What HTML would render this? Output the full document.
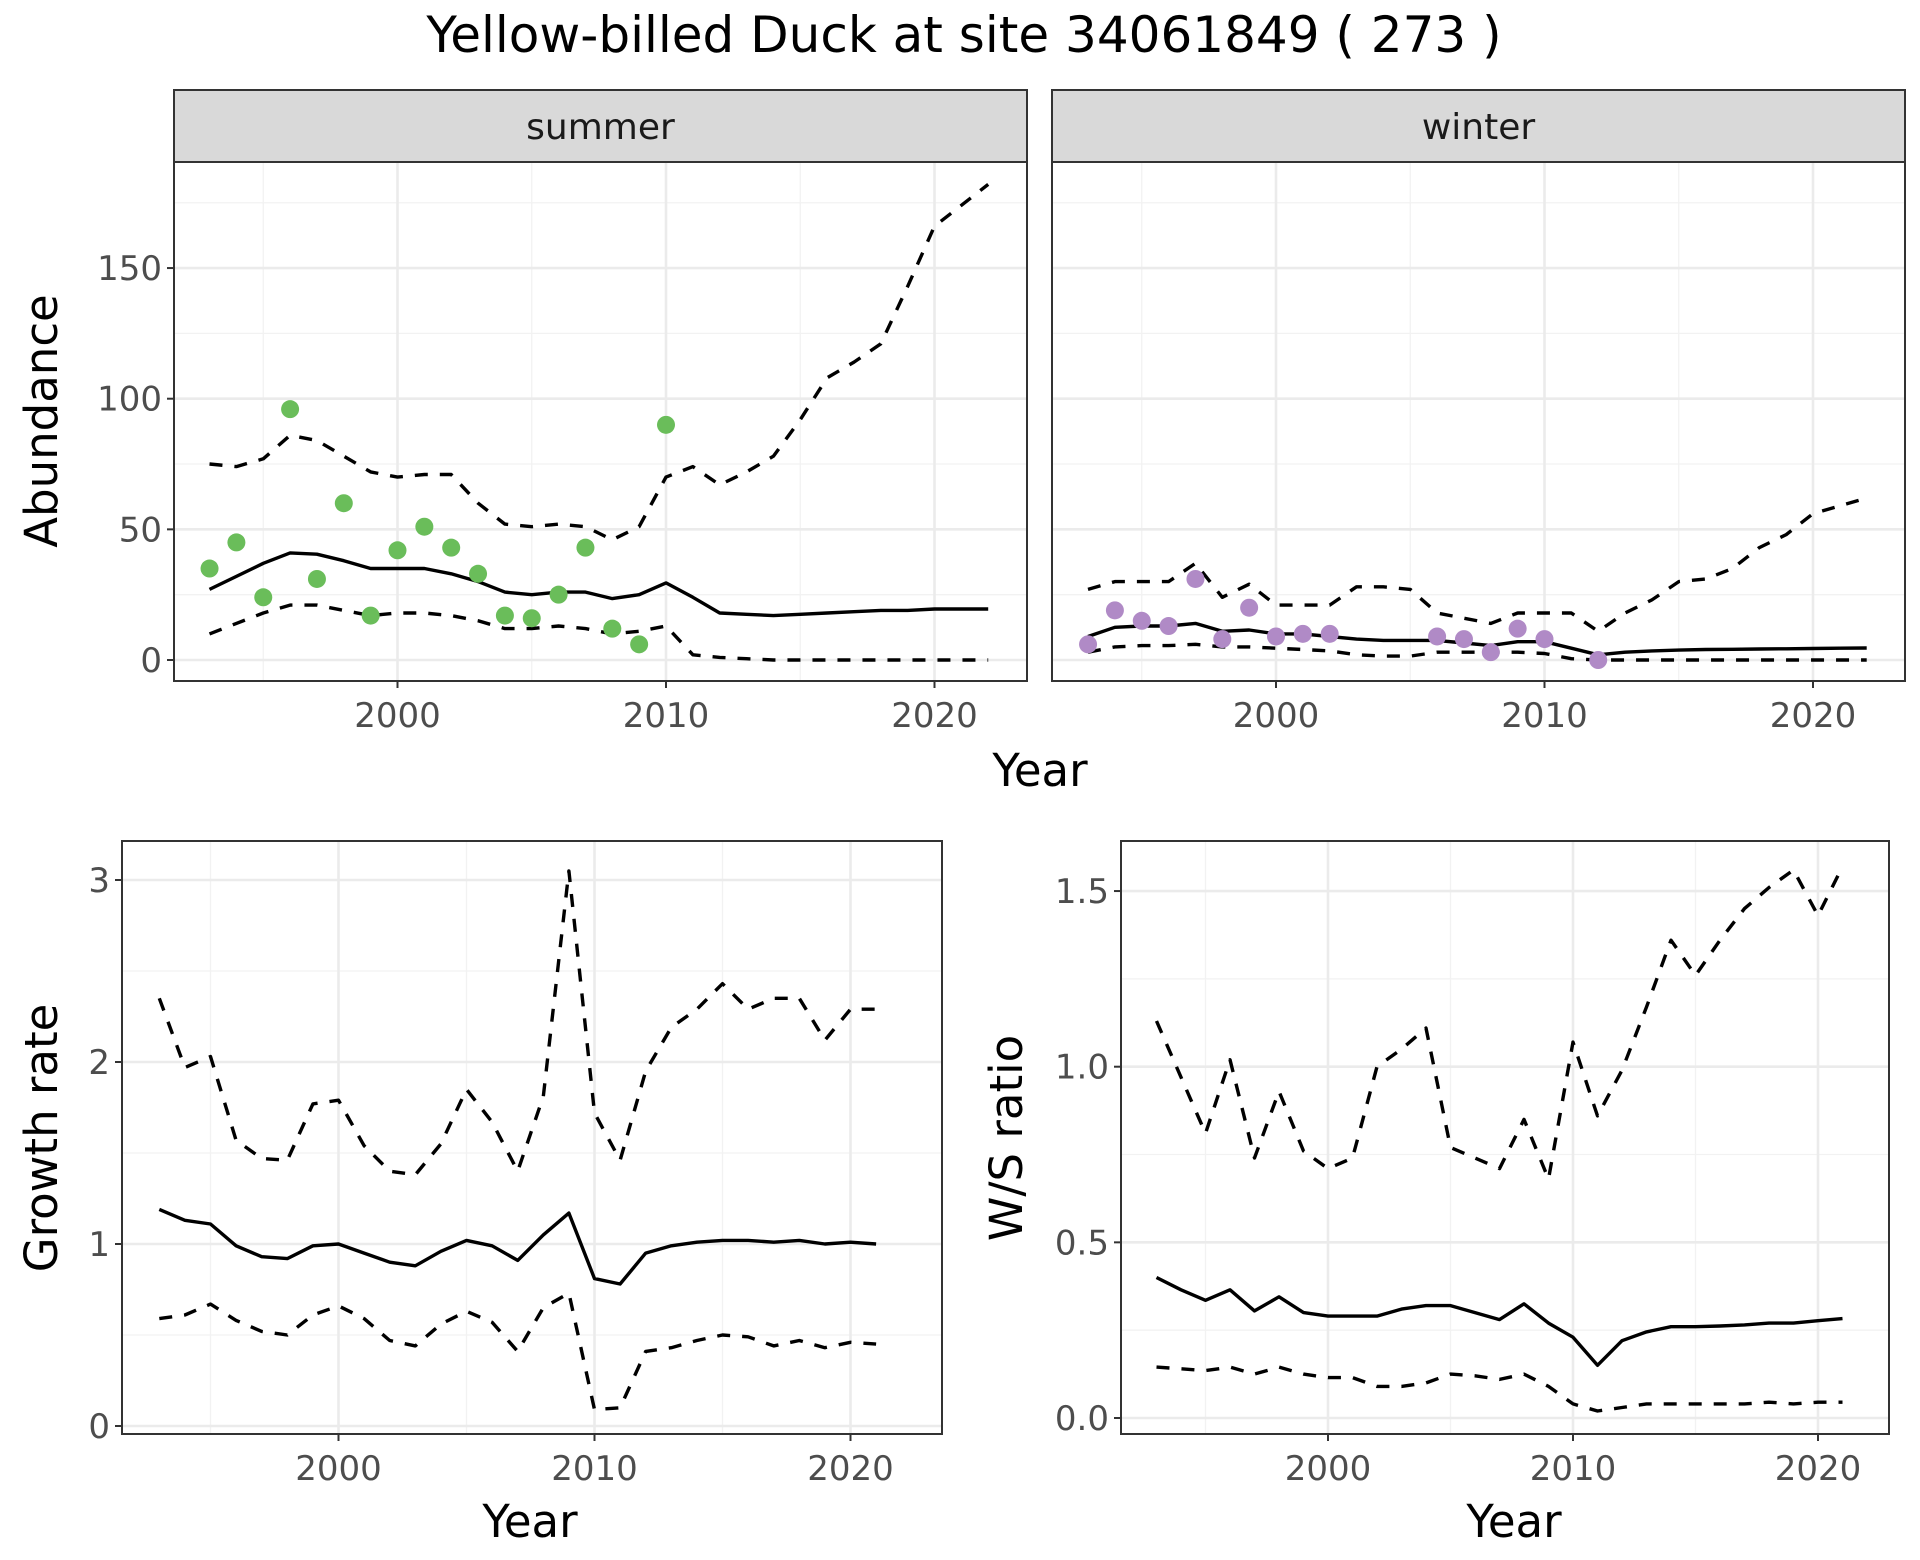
<!DOCTYPE html>
<html><head><meta charset="utf-8"><style>
html,body{margin:0;padding:0;background:#fff}
svg{display:block;font-family:"DejaVu Sans","Liberation Sans",sans-serif}
</style></head><body>
<svg id="c" width="1920" height="1560" viewBox="0 0 1920 1560" xmlns="http://www.w3.org/2000/svg">
<text x="964" y="52" font-size="50" text-anchor="middle" fill="#000">Yellow-billed Duck at site 34061849 ( 273 )</text>
</svg>
<script>
const yearsAll = [1993,1994,1995,1996,1997,1998,1999,2000,2001,2002,2003,2004,2005,2006,2007,2008,2009,2010,2011,2012,2013,2014,2015,2016,2017,2018,2019,2020,2021,2022];
const sumPtYears = [1993,1994,1995,1996,1997,1998,1999,2000,2001,2002,2003,2004,2005,2006,2007,2008,2009,2010];
const sumPts = [35,45,24,96,31,60,17,42,51,43,33,17,16,25,43,12,6,90];
const sumMean = [27,32,37,41,40.5,38,35,35,35,33,30,26,25,26,26,23.5,25,29.5,24,18,17.5,17,17.5,18,18.5,19,19,19.5,19.5,19.5];
const sumUp = [75,74,77,86,84,78,72,70,71,71,60,52,51,52,51,46,51,70,74,67,72,78,92,108,114,121,143,166,174,182];
const sumLo = [10,14,18,21,21,19,17,18,18,17,15,12,12,13,12,10,11,13,2,1,0.5,0,0,0,0,0,0,0,0,0];
const winPtYears = [1993,1994,1995,1996,1997,1998,1999,2000,2001,2002,2006,2007,2008,2009,2010,2012];
const winPts = [6,19,15,13,31,8,20,9,10,10,9,8,3,12,8,0];
const winMean = [9,12.5,13,13,14,11,11.5,10,10,9,8,7.5,7.5,7.5,6.5,5.5,7,7,4.5,2,3,3.5,3.8,4,4.1,4.2,4.3,4.4,4.5,4.6];
const winUp = [27,30,30,30,37,24,29,21,21,21,28,28,27,18,16,14,18,18,18,11,18,23,30,31,35,43,48,56,59,62];
const winLo = [3,5,5.5,5.5,6,5,5,4.5,4,3.5,2,1.5,1.5,3,3,3,3,2.5,0.5,0,0,0,0,0,0,0,0,0,0,0];
const yearsGr = [1993,1994,1995,1996,1997,1998,1999,2000,2001,2002,2003,2004,2005,2006,2007,2008,2009,2010,2011,2012,2013,2014,2015,2016,2017,2018,2019,2020,2021];
const grMean = [1.19,1.13,1.11,0.99,0.93,0.92,0.99,1.00,0.95,0.90,0.88,0.96,1.02,0.99,0.91,1.05,1.17,0.81,0.78,0.95,0.99,1.01,1.02,1.02,1.01,1.02,1.00,1.01,1.00];
const grUp = [2.35,1.97,2.03,1.57,1.47,1.46,1.77,1.79,1.54,1.40,1.38,1.55,1.85,1.67,1.40,1.81,3.05,1.72,1.46,1.95,2.19,2.29,2.43,2.29,2.35,2.35,2.12,2.29,2.29];
const grLo = [0.59,0.61,0.67,0.58,0.52,0.50,0.61,0.66,0.59,0.47,0.44,0.56,0.63,0.57,0.41,0.65,0.73,0.09,0.10,0.41,0.43,0.47,0.50,0.49,0.44,0.47,0.43,0.46,0.45];
const wsMean = [0.40,0.365,0.335,0.365,0.305,0.345,0.30,0.29,0.29,0.29,0.31,0.32,0.32,0.30,0.28,0.325,0.27,0.23,0.15,0.22,0.245,0.26,0.26,0.262,0.265,0.27,0.27,0.277,0.283];
const wsUp = [1.13,0.97,0.81,1.02,0.74,0.93,0.76,0.71,0.74,1.00,1.05,1.11,0.77,0.74,0.71,0.85,0.68,1.07,0.86,0.99,1.17,1.36,1.26,1.36,1.45,1.51,1.56,1.43,1.57];
const wsLo = [0.145,0.14,0.135,0.145,0.125,0.145,0.125,0.115,0.115,0.09,0.09,0.10,0.125,0.12,0.11,0.125,0.09,0.04,0.02,0.03,0.04,0.04,0.04,0.04,0.04,0.045,0.04,0.045,0.045];
const xTicks = [2000,2010,2020];
const xMinor = [1995,2005,2015];
const abTicks = [0,50,100,150];
const abMinor = [25,75,125,175];
const grTicks = [0,1,2,3];
const grMinor = [0.5,1.5,2.5];
const wsTicks = [0,0.5,1.0,1.5];
const wsMinor = [0.25,0.75,1.25];
const wsTickLabels = ["0.0","0.5","1.0","1.5"];

const svg = document.getElementById('c');
const NS = 'http://www.w3.org/2000/svg';
function mk(tag, attrs, parent){const e=document.createElementNS(NS,tag);for(const k in attrs)e.setAttribute(k,attrs[k]);(parent||svg).appendChild(e);return e;}

function panel(cfg){
  const g = mk('g',{});
  
  
  const sx = v => cfg.x0 + (v-2000)*cfg.xs;
  const sy = v => cfg.y0 - v*cfg.ys;
  mk('rect',{x:cfg.l,y:cfg.t,width:cfg.r-cfg.l,height:cfg.b-cfg.t,fill:'#fff'},g);
  cfg.yMinor.forEach(v=>{const y=sy(v); if(y>cfg.t&&y<cfg.b) mk('line',{x1:cfg.l,x2:cfg.r,y1:y,y2:y,stroke:'#f2f2f2','stroke-width':1.3},g);});
  xMinor.forEach(v=>mk('line',{x1:sx(v),x2:sx(v),y1:cfg.t,y2:cfg.b,stroke:'#f2f2f2','stroke-width':1.3},g));
  cfg.yTicks.forEach((v,i)=>{const y=sy(v);
    mk('line',{x1:cfg.l,x2:cfg.r,y1:y,y2:y,stroke:'#ebebeb','stroke-width':2.6},g);
    if(cfg.showY){mk('line',{x1:cfg.l-7,x2:cfg.l,y1:y,y2:y,stroke:'#333','stroke-width':2},g);
      const t=mk('text',{x:cfg.l-12,y:y+12,'font-size':34,'text-anchor':'end',fill:'#4d4d4d'},g);
      t.textContent=cfg.yLabels?cfg.yLabels[i]:String(v);
      
      }
  });
  xTicks.forEach(v=>{const x=sx(v);
    mk('line',{x1:x,x2:x,y1:cfg.t,y2:cfg.b,stroke:'#ebebeb','stroke-width':2.6},g);
    mk('line',{x1:x,x2:x,y1:cfg.b,y2:cfg.b+7,stroke:'#333','stroke-width':2},g);
    const t=mk('text',{x:x,y:cfg.b+46,'font-size':34,'text-anchor':'middle',fill:'#4d4d4d'},g);
    t.textContent=String(v);
    
    
  });
  const line=(ys,arr,dash,nm)=>{
    const d=arr.map((v,i)=>(i?'L':'M')+sx(ys[i]).toFixed(1)+','+sy(v).toFixed(1)).join('');
    const p=mk('path',{d:d,fill:'none',stroke:'#000','stroke-width':3.4,'stroke-dasharray':dash?'13,12':'none','stroke-linejoin':'round'},g);
    
    
  };
  line(cfg.years,cfg.up,true,'upper-bound-line');
  line(cfg.years,cfg.lo,true,'lower-bound-line');
  line(cfg.years,cfg.mean,false,'mean-line');
  if(cfg.pts){cfg.pts.forEach((v,i)=>{
    const c=mk('circle',{cx:sx(cfg.ptYears[i]),cy:sy(v),r:9,fill:cfg.color},g);
    
    
  });}
  mk('rect',{x:cfg.l,y:cfg.t,width:cfg.r-cfg.l,height:cfg.b-cfg.t,fill:'none',stroke:'#333','stroke-width':2},g);
  if(cfg.strip){
    const s=mk('rect',{x:cfg.l,y:90,width:cfg.r-cfg.l,height:cfg.t-90,fill:'#d9d9d9',stroke:'#333','stroke-width':2},g);
    
    
    const t=mk('text',{x:(cfg.l+cfg.r)/2,y:139,'font-size':36,'text-anchor':'middle',fill:'#1a1a1a'},g);
    t.textContent=cfg.strip;
    
    
  }
}
panel({name:'summer-panel',l:174,r:1027,t:162,b:681,x0:397.5,xs:26.85,y0:660,ys:2.613,yTicks:abTicks,yMinor:abMinor,showY:true,years:yearsAll,mean:sumMean,up:sumUp,lo:sumLo,pts:sumPts,ptYears:sumPtYears,color:'#6abd5a',strip:'summer'});
panel({name:'winter-panel',l:1052,r:1905,t:162,b:681,x0:1276,xs:26.85,y0:660,ys:2.613,yTicks:abTicks,yMinor:abMinor,showY:false,years:yearsAll,mean:winMean,up:winUp,lo:winLo,pts:winPts,ptYears:winPtYears,color:'#b08ac6',strip:'winter'});
panel({name:'growth-rate-panel',l:122,r:942,t:841,b:1434,x0:338.5,xs:25.6,y0:1426,ys:182,yTicks:grTicks,yMinor:grMinor,showY:true,years:yearsGr,mean:grMean,up:grUp,lo:grLo});
panel({name:'ws-ratio-panel',l:1121,r:1889,t:841,b:1434,x0:1328,xs:24.5,y0:1418,ys:351.3,yTicks:wsTicks,yMinor:wsMinor,yLabels:wsTickLabels,showY:true,years:yearsGr,mean:wsMean,up:wsUp,lo:wsLo});

function label(x,y,txt,nm,rot){
  const t=mk('text',{x:x,y:y,'font-size':45,'text-anchor':'middle',fill:'#000'});
  if(rot) t.setAttribute('transform','rotate(-90 '+x+' '+y+')');
  t.textContent=txt;
  
  
}
label(1040,786,'Year','top-x-axis-title');
label(530,1537,'Year','growth-x-axis-title');
label(1514,1537,'Year','ws-x-axis-title');
label(57,421,'Abundance','abundance-y-axis-title',true);
label(57,1138,'Growth rate','growth-y-axis-title',true);
label(1022,1138,'W/S ratio','ws-y-axis-title',true);
</script>
</body></html>
